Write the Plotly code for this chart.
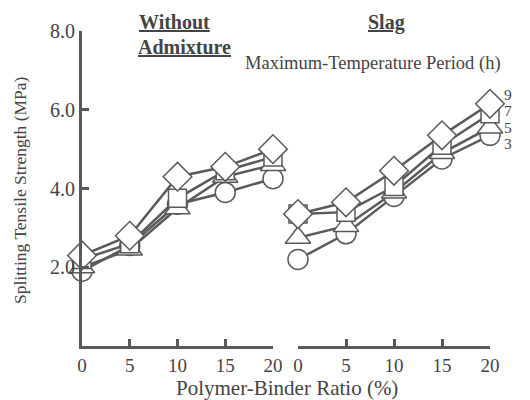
import plotly.graph_objects as go

ratios = [0, 5, 10, 15, 20]
periods = ["3", "5", "7", "9"]
symbols = ["circle", "triangle-up", "square", "diamond"]
sizes = [20, 22, 18, 22]

# Without admixture
plain = {
    "3": [1.9, 2.55, 3.6, 3.9, 4.25],
    "5": [2.0, 2.45, 3.5, 4.3, 4.6],
    "7": [2.2, 2.6, 3.75, 4.45, 4.8],
    "9": [2.3, 2.8, 4.3, 4.55, 5.0],
}
# Slag
slag = {
    "3": [2.2, 2.85, 3.8, 4.75, 5.35],
    "5": [2.75, 3.05, 3.9, 4.9, 5.55],
    "7": [3.35, 3.4, 4.05, 5.1, 5.9],
    "9": [3.35, 3.65, 4.45, 5.35, 6.15],
}

ytick_vals = [2, 4, 6, 8]
ytick_text = ["2.0", "4.0", "6.0", "8.0"]

OFF = 8  # page body margin
W, H = 530 - OFF, 400 - OFF
# target screen positions of the plot area
L_S, R_S, T_S, B_S = 82, 490, 25, 346
ML, MR, MT, MB = L_S - OFF, W - (R_S - OFF), T_S - OFF, H - (B_S - OFF)
PW = W - ML - MR
PH = H - MT - MB

def px(x):
    return (x - OFF - ML) / PW

def py(y):
    return 1 - (y - OFF - MT) / PH

LINE = "#5a5a5a"
TXT = "#444444"
FONT = "Liberation Serif, Times New Roman, DejaVu Serif, serif"

fig = go.Figure()
for data, xa in [(plain, "x"), (slag, "x2")]:
    for p in periods:
        fig.add_trace(go.Scatter(x=ratios, y=data[p], mode="lines", xaxis=xa, yaxis="y",
                                 line=dict(color=LINE, width=2.5), cliponaxis=False,
                                 showlegend=False, hoverinfo="skip"))
for data, xa in [(plain, "x"), (slag, "x2")]:
    for p, s, sz in zip(periods, symbols, sizes):
        fig.add_trace(go.Scatter(x=ratios, y=data[p], mode="markers", xaxis=xa, yaxis="y",
                                 marker=dict(symbol=s, size=sz, color="white",
                                             line=dict(color=LINE, width=1.5)),
                                 cliponaxis=False, showlegend=False, name=p + " h"))

xcommon = dict(range=[0, 20], tickvals=ratios, ticks="inside", ticklen=7, tickwidth=2.5,
               tickcolor=LINE, showline=True, linecolor=LINE, linewidth=3,
               showgrid=False, zeroline=False, anchor="y",
               tickfont=dict(family=FONT, size=19, color=TXT))

fig.update_layout(
    width=W, height=H,
    margin=dict(l=ML, r=MR, t=MT, b=MB),
    plot_bgcolor="white", paper_bgcolor="white",
    xaxis=dict(domain=[0, px(273)], **xcommon),
    xaxis2=dict(domain=[px(298), 1], **xcommon),
    yaxis=dict(range=[0, 8], tickvals=ytick_vals, ticktext=ytick_text, ticks="inside",
               ticklen=7, tickwidth=2.5, tickcolor=LINE, showline=True, linecolor=LINE,
               linewidth=3, showgrid=False, zeroline=False,
               tickfont=dict(family=FONT, size=20, color=TXT)),
)

def ann(text, x, y, size, bold=False, under=False, xanchor="center", angle=0):
    f = dict(family=FONT, size=size, color=TXT)
    if under:
        f["lineposition"] = "under"
    fig.add_annotation(text=("<b>%s</b>" % text) if bold else text,
                       x=px(x), y=py(y), xref="paper", yref="paper", textangle=angle,
                       xanchor=xanchor, yanchor="middle", showarrow=False, font=f)

ann("Without", 137, 16, 20, bold=True, under=True, xanchor="left")
ann("Admixture", 136, 41, 20, bold=True, under=True, xanchor="left")
ann("Slag", 386, 16, 20, bold=True, under=True)
ann("Maximum-Temperature Period (h)", 243, 58, 18.5, xanchor="left")
for lab, yy in zip(["9", "7", "5", "3"], [90, 106, 123, 140]):
    ann(lab, 502, yy, 15.5, xanchor="left")
ann("Splitting Tensile Strength (MPa)", 20, 187, 17.5, angle=-90)
ann("Polymer-Binder Ratio (%)", 287, 389, 21)

fig.write_html("out.html")
